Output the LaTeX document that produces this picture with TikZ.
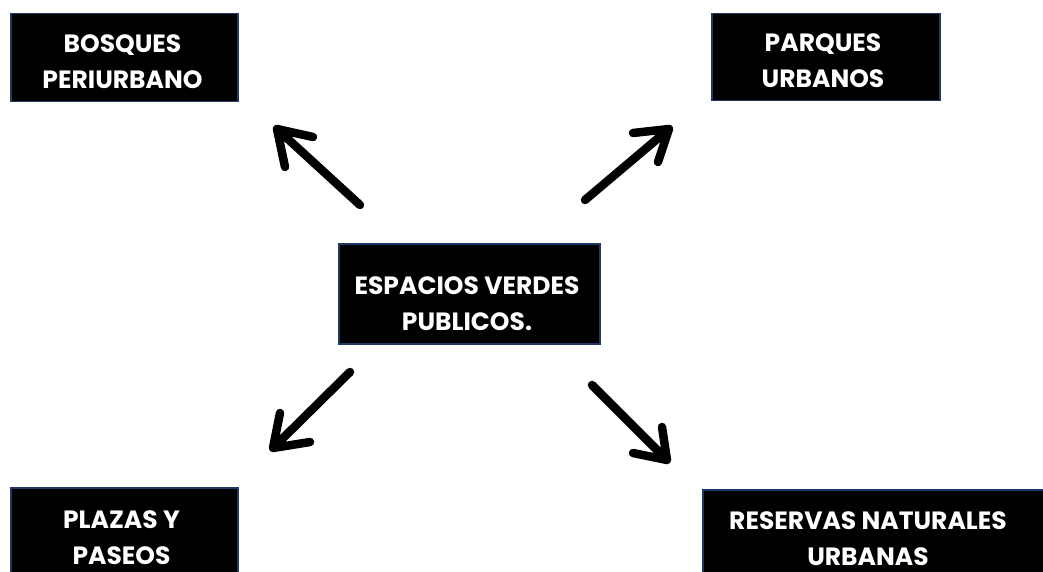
\documentclass[tikz,border=0pt]{standalone}
\usepackage{fontspec}
\setmainfont{Poppins}
\definecolor{navy}{RGB}{31,56,100}
\tikzset{
  box/.style={draw=navy, line width=1.5pt, fill=black, inner sep=0pt, anchor=north west},
  lbl/.style={text=white, inner sep=0pt, anchor=north, align=center,
    font=\fontsize{25}{36}\selectfont\bfseries},
  arr/.style={line width=8.5pt, line cap=round, line join=round, black}
}
\begin{document}
\begin{tikzpicture}[x=1pt,y=-1pt]
\useasboundingbox (0,0) rectangle (1043,572);
% boxes
\node[box, minimum width=227pt, minimum height=88pt] (bosques) at (10,13) {};
\node[box, minimum width=228pt, minimum height=87pt] (parques) at (711,13) {};
\node[box, minimum width=261pt, minimum height=100pt] (espacios) at (338,243) {};
\node[box, minimum width=227pt, minimum height=95pt] (plazas) at (10,487) {};
\node[box, minimum width=350pt, minimum height=95pt] (reservas) at (702,489) {};
% labels
\node[lbl] (bosquesT) at (122.5,35) {BOSQUES\\PERIURBANO};
\node[lbl] (parquesT) at (823,34) {PARQUES\\URBANOS};
\node[lbl] (espaciosT) at (467,276) {ESPACIOS VERDES\\PUBLICOS.};
\node[lbl] (plazasT) at (121.5,510) {PLAZAS Y\\PASEOS};
\node[lbl] (reservasT) at (868,511) {RESERVAS NATURALES\\URBANAS};
% arrow coordinates
\coordinate (a1t) at (360,205); \coordinate (a1h) at (277,129);
\coordinate (a1l) at (313,137); \coordinate (a1r) at (285,167);
\coordinate (a2t) at (585,200); \coordinate (a2h) at (669,129);
\coordinate (a2l) at (633,133); \coordinate (a2r) at (658,162);
\coordinate (a3t) at (350,372); \coordinate (a3h) at (273,448);
\coordinate (a3l) at (280,413); \coordinate (a3r) at (310,442);
\coordinate (a4t) at (592,385); \coordinate (a4h) at (667,460);
\coordinate (a4l) at (662,427); \coordinate (a4r) at (633,453);
\draw[arr] (a1t) -- (a1h) (a1l) -- (a1h) -- (a1r);
\draw[arr] (a2t) -- (a2h) (a2l) -- (a2h) -- (a2r);
\draw[arr] (a3t) -- (a3h) (a3l) -- (a3h) -- (a3r);
\draw[arr] (a4t) -- (a4h) (a4l) -- (a4h) -- (a4r);
\end{tikzpicture}
\end{document}
